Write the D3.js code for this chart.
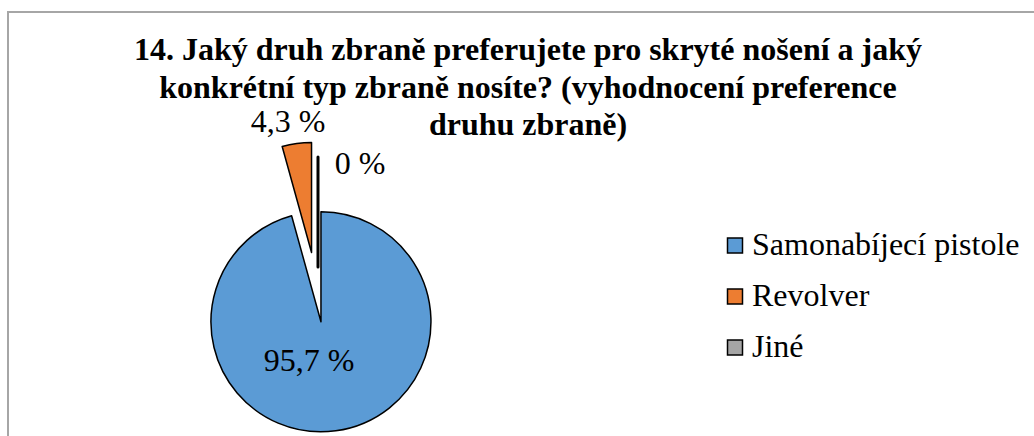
<html lang="cs">
<head>
    <meta charset="UTF-8">
    <title>Preference druhu zbraně</title>
    <script src="https://d3js.org/d3.v7.min.js"></script>
    <style>
        body { margin: 0; background: #fff; }
    </style>
</head>

<body>
    <script>
        // Data
        const categories = ["Samonabíjecí pistole", "Revolver", "Jiné"];
        const values = [95.7, 4.3, 0];
        const labels = ["95,7 %", "4,3 %", "0 %"];
        const titleLines = [
            "14. Jaký druh zbraně preferujete pro skryté nošení a jaký",
            "konkrétní typ zbraně nosíte? (vyhodnocení preference",
            "druhu zbraně)"
        ];

        // Layout
        const width = 1034, height = 436;
        const colors = ["#5b9bd5", "#ed7d31", "#a5a5a5"];
        const cx = 318, cy = 300, r = 110;
        const explode = [22, 48, 33]; // per-slice offset in px
        const serif = "'Liberation Serif', 'Times New Roman', Times, serif";

        const svg = d3.select("body")
            .append("svg")
            .attr("width", width)
            .attr("height", height);

        // chart frame
        svg.append("rect")
            .attr("x", 8).attr("y", 12)
            .attr("width", width).attr("height", height)
            .attr("fill", "none")
            .attr("stroke", "#a6a6a6")
            .attr("stroke-width", 2);

        // title
        svg.append("g")
            .selectAll("text")
            .data(titleLines)
            .join("text")
            .attr("x", 528)
            .attr("y", (d, i) => 60 + i * 37.5)
            .attr("text-anchor", "middle")
            .style("font-family", serif)
            .style("font-size", "32px")
            .style("font-weight", "bold")
            .text(d => d);

        // pie
        const pie = d3.pie().sort(null).value(d => d);
        const arcs = pie(values);
        const arc = d3.arc().innerRadius(0).outerRadius(r);

        const offset = (d, i) => {
            const a = (d.startAngle + d.endAngle) / 2;
            return [Math.sin(a) * explode[i], -Math.cos(a) * explode[i]];
        };

        const g = svg.append("g").attr("transform", `translate(${cx},${cy})`);

        g.selectAll("path")
            .data(arcs)
            .join("path")
            .attr("transform", (d, i) => `translate(${offset(d, i)})`)
            .attr("d", (d, i) => {
                if (d.endAngle - d.startAngle > 0) return arc(d);
                const a = d.startAngle;
                return `M0,0L${Math.sin(a) * r},${-Math.cos(a) * r}Z`;
            })
            .attr("fill", (d, i) => colors[i])
            .attr("stroke", "#000")
            .attr("stroke-width", (d, i) => d.value === 0 ? 3 : 1.5)
            .attr("stroke-linejoin", "round");

        // data labels (baseline positions relative to pie centre)
        const labelPos = [[-9, 71], [-30, -168], [42, -126]];
        g.selectAll("text")
            .data(arcs)
            .join("text")
            .attr("x", (d, i) => labelPos[i][0])
            .attr("y", (d, i) => labelPos[i][1])
            .attr("text-anchor", "middle")
            .style("font-family", serif)
            .style("font-size", "32px")
            .text((d, i) => labels[i]);

        // legend
        const legend = svg.append("g")
            .attr("transform", "translate(727,255)")
            .selectAll("g")
            .data(categories)
            .join("g")
            .attr("transform", (d, i) => `translate(0,${i * 51})`);

        legend.append("rect")
            .attr("x", 0.5).attr("y", -17)
            .attr("width", 15).attr("height", 15)
            .attr("fill", (d, i) => colors[i])
            .attr("stroke", "#000")
            .attr("stroke-width", 1.5);

        legend.append("text")
            .attr("x", 25)
            .attr("y", 0)
            .style("font-family", serif)
            .style("font-size", "32px")
            .text(d => d);
    </script>
</body>
</html>
